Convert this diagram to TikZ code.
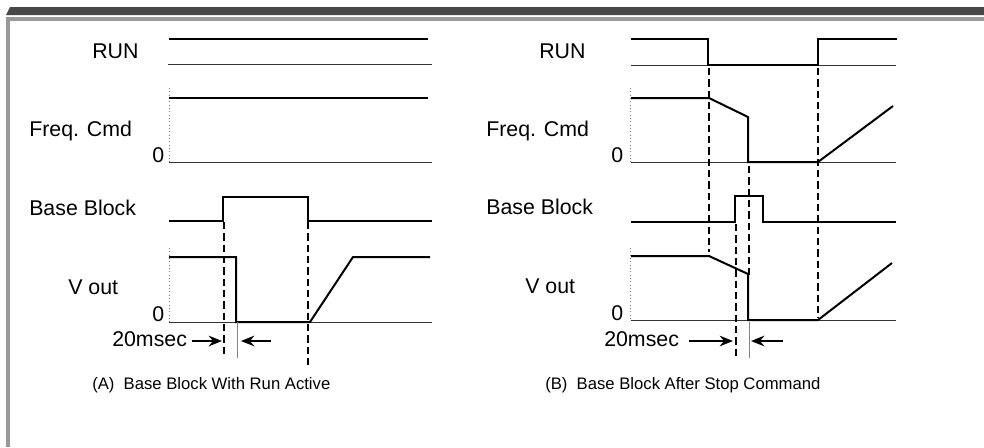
\documentclass[tikz,border=0pt]{standalone}
\usepackage{fontspec}
\setmainfont{Liberation Sans}
\usetikzlibrary{positioning, arrows.meta}

\begin{document}
\begin{tikzpicture}[
    x=0.75pt, y=-0.75pt,
    every node/.style={inner sep=0pt, font=\fontsize{16}{19}\selectfont},
    lbl/.style={anchor=base west},
    sig/.style={line width=1.5pt, line join=miter},
    base/.style={line width=0.7pt, black!80},
    zerotick/.style={line width=0.5pt, gray, dotted},
    guide/.style={line width=1.6pt, dash pattern=on 5.5pt off 3pt},
    hairline/.style={line width=0.4pt, gray},
    arr/.style={line width=1.4pt, -{Stealth[length=10pt,width=8pt]}},
    caption/.style={anchor=base west, font=\fontsize{12.5}{15}\selectfont},
]
\useasboundingbox (0,0) rectangle (984,447);

% frame
\fill[black!72] (10,7) -- (984,7) -- (984,15) -- (6,15) -- cycle;
\fill[black!40] (6,17) rectangle (984,21);
\fill[black!40] (6,17) rectangle (10,447);

% (A) base block with run active
\node[lbl] (runA) at (92,58) {RUN};
\node[lbl] (freqA) at (29,136) {Freq. Cmd};
\node[lbl] (zeroFA) at (152,162) {0};
\node[lbl] (bbA) at (29,215) {Base Block};
\node[lbl] (voutA) at (68,294) {V out};
\node[lbl] (zeroVA) at (152,321) {0};
\node[lbl] (msA) at (112,346.5) {20msec};

\draw[base] (168,64) -- (432,64);
\draw[sig] (169,39) -- (428,39);

\draw[zerotick] (169,88) -- (169,162);
\draw[base] (169,162) -- (432,162);
\draw[sig] (169,98) -- (428,98);

\draw[sig] (169,221) -- (223,221) -- (223,197) -- (308,197) -- (308,221) -- (432,221);

\draw[zerotick] (169,248) -- (169,322);
\draw[base] (169,322) -- (432,322);
\draw[sig] (169,257) -- (236,257) -- (236,322) -- (310,322) -- (353,257) -- (430,257);

\draw[guide] (224,222) -- (224,358);
\draw[guide] (308,222) -- (308,367);
\draw[hairline] (237,322) -- (237,358);

\coordinate (inA1) at (192,341);
\coordinate (tipA1) at (222,341);
\coordinate (inA2) at (271,341);
\coordinate (tipA2) at (241,341);
\draw[arr] (inA1) -- (tipA1);
\draw[arr] (inA2) -- (tipA2);

% (B) base block after stop command
\node[lbl] (runB) at (539,58) {RUN};
\node[lbl] (freqB) at (486,136) {Freq. Cmd};
\node[lbl] (zeroFB) at (611,162) {0};
\node[lbl] (bbB) at (486,214.5) {Base Block};
\node[lbl] (voutB) at (525,293.5) {V out};
\node[lbl] (zeroVB) at (611,320) {0};
\node[lbl] (msB) at (604,346) {20msec};

\draw[base] (631,65) -- (896,65);
\draw[sig] (631,39) -- (708,39) -- (708,65) -- (818,65) -- (818,39) -- (897,39);

\draw[zerotick] (630,88) -- (630,162);
\draw[base] (631,162) -- (896,162);
\draw[sig] (631,98) -- (709,98) -- (748,117) -- (748,162) -- (818,162) -- (893,106);

\draw[sig] (631,222) -- (735,222) -- (735,196) -- (763,196) -- (763,222) -- (896,222);

\draw[zerotick] (630,248) -- (630,320);
\draw[base] (631,320) -- (896,320);
\draw[sig] (631,256) -- (709,256) -- (748,274) -- (748,320) -- (818,320) -- (892,263);

\draw[guide] (709,68) -- (709,252);
\draw[guide] (749,166) -- (749,275);
\draw[guide] (818,68) -- (818,318);
\draw[guide] (736,224) -- (736,357);
\draw[hairline] (749,322) -- (749,358);

\coordinate (inB1) at (689,341);
\coordinate (tipB1) at (733,341);
\coordinate (inB2) at (783,341);
\coordinate (tipB2) at (751,341);
\draw[arr] (inB1) -- (tipB1);
\draw[arr] (inB2) -- (tipB2);

\node[caption] (capA) at (92,389) {(A)\ \ Base Block With Run Active};
\node[caption] (capB) at (545,389) {(B)\ \ Base Block After Stop Command};

\end{tikzpicture}
\end{document}
